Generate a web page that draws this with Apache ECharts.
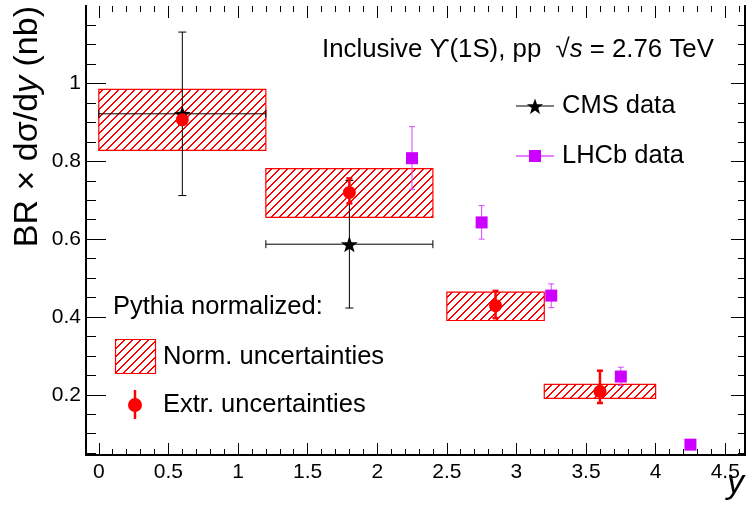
<!DOCTYPE html>
<html>
<head>
<meta charset="utf-8">
<script src="https://cdn.jsdelivr.net/npm/echarts@6/dist/echarts.min.js"></script>
<style>
  html, body { margin: 0; padding: 0; background: #fff; }
  #main { width: 746px; height: 506px; }
</style>
</head>
<body>
<div id="main"></div>
<script>
// rapidity bins and values
var cmsX = [0.6, 1.8];
var cmsVal = [0.922, 0.587];
var cmsXLo = [0, 1.2];
var cmsXHi = [1.2, 2.4];
var cmsLo = [0.712, 0.423];
var cmsHi = [1.132, 0.751];

var pyX = [0.6, 1.8, 2.85, 3.6];
var pyVal = [0.907, 0.72, 0.429, 0.209];
var pyLo = [0.895, 0.692, 0.397, 0.179];
var pyHi = [0.919, 0.756, 0.467, 0.262];
var boxXLo = [0, 1.2, 2.5, 3.2];
var boxXHi = [1.2, 2.4, 3.2, 4.0];
var boxLo = [0.828, 0.656, 0.391, 0.191];
var boxHi = [0.985, 0.781, 0.464, 0.227];

var lhcbX = [2.25, 2.75, 3.25, 3.75, 4.25];
var lhcbVal = [0.808, 0.643, 0.455, 0.247, 0.072];
var lhcbLo = [0.728, 0.600, 0.424, 0.224, 0.062];
var lhcbHi = [0.889, 0.686, 0.485, 0.271, 0.082];

var xTicks = [0, 0.5, 1, 1.5, 2, 2.5, 3, 3.5, 4, 4.5];
var yTicks = [0.2, 0.4, 0.6, 0.8, 1];

var xMinor = [];
for (var i = 1; i <= 46; i++) { if (i % 5 !== 0) xMinor.push(i / 10); }
var yMinor = [];
for (var j = 1; j <= 23; j++) { if (j % 4 !== 0) yMinor.push(j / 20); }

var FONT = 'Liberation Sans, Arial, sans-serif';
var RED = '#ff0000';
var MAG = '#cc00ff';

// crisp "///" hatch tile
var hatch = document.createElement('canvas');
hatch.width = 8; hatch.height = 8;
var hc = hatch.getContext('2d');
hc.fillStyle = RED;
for (var p = 0; p < 8; p++) hc.fillRect(p, 7 - p, 2, 1);
hc.fillRect(0, 0, 1, 1);
function hatchFill() { return { image: hatch, repeat: 'repeat' }; }

var chart = echarts.init(document.getElementById('main'));

function axisX(pos, len, vals, labels) {
  return {
    type: 'value', position: pos, min: -0.092, max: 4.642,
    axisLine: { show: labels, lineStyle: { color: '#000', width: 2 } },
    axisTick: { inside: true, length: len, customValues: vals, lineStyle: { color: '#000', width: 1 } },
    axisLabel: labels ? { customValues: vals, color: '#000', fontSize: 21, fontFamily: FONT, margin: 7 } : { show: false },
    splitLine: { show: false }
  };
}
function axisY(pos, len, vals, labels) {
  return {
    type: 'value', position: pos, min: 0.0454, max: 1.199,
    axisLine: { show: true, onZero: false, lineStyle: { color: '#000', width: 2 } },
    axisTick: { inside: true, length: len, customValues: vals, lineStyle: { color: '#000', width: 1 } },
    axisLabel: labels ? { customValues: vals, color: '#000', fontSize: 21, fontFamily: FONT, margin: 5 } : { show: false },
    splitLine: { show: false }
  };
}

var boxData = pyX.map(function (x, k) { return [boxXLo[k], boxXHi[k], boxLo[k], boxHi[k]]; });
var cmsErr = cmsX.map(function (x, k) { return [x, cmsVal[k], cmsLo[k], cmsHi[k], cmsXLo[k], cmsXHi[k]]; });
var pyErr = pyX.map(function (x, k) { return [x, pyVal[k], pyLo[k], pyHi[k]]; });
var lhcbErr = lhcbX.map(function (x, k) { return [x, lhcbVal[k], lhcbLo[k], lhcbHi[k]]; });

function errRender(color, width, cap, withX) {
  return function (params, api) {
    var x = api.value(0);
    var top = api.coord([x, api.value(3)]);
    var bot = api.coord([x, api.value(2)]);
    var st = { stroke: color, lineWidth: width };
    var kids = [
      { type: 'line', shape: { x1: top[0], y1: top[1], x2: bot[0], y2: bot[1] }, style: st },
      { type: 'line', shape: { x1: top[0] - cap, y1: top[1], x2: top[0] + cap, y2: top[1] }, style: st },
      { type: 'line', shape: { x1: bot[0] - cap, y1: bot[1], x2: bot[0] + cap, y2: bot[1] }, style: st }
    ];
    if (withX) {
      var l = api.coord([api.value(4), api.value(1)]);
      var r = api.coord([api.value(5), api.value(1)]);
      kids.push({ type: 'line', shape: { x1: l[0], y1: l[1], x2: r[0], y2: r[1] }, style: st });
      kids.push({ type: 'line', shape: { x1: l[0], y1: l[1] - cap, x2: l[0], y2: l[1] + cap }, style: st });
      kids.push({ type: 'line', shape: { x1: r[0], y1: r[1] - cap, x2: r[0], y2: r[1] + cap }, style: st });
    }
    return { type: 'group', children: kids };
  };
}

var starPath = 'path://M0,-10L2.35,-3.24L9.51,-3.09L3.8,1.24L5.88,8.09L0,4L-5.88,8.09L-3.8,1.24L-9.51,-3.09L-2.35,-3.24Z';

// legend star glyph
var starPts = [];
for (var s = 0; s < 10; s++) {
  var ang = -Math.PI / 2 + s * Math.PI / 5;
  var rr = s % 2 === 0 ? 8.5 : 3.4;
  starPts.push([535 + rr * Math.cos(ang), 107 + rr * Math.sin(ang)]);
}

var option = {
  animation: false,
  backgroundColor: '#fff',
  grid: { left: 86, right: 1, top: 6, bottom: 51, containLabel: false },
  xAxis: [
    axisX('bottom', 12, xTicks, true),
    axisX('bottom', 6, xMinor, false),
    axisX('top', 12, xTicks, false),
    axisX('top', 6, xMinor, false)
  ],
  yAxis: [
    axisY('left', 20, yTicks, true),
    axisY('left', 10, yMinor, false),
    axisY('right', 14, yTicks, false),
    axisY('right', 7, yMinor, false)
  ],
  graphic: [
    { type: 'text', x: 28, y: 6, rotation: Math.PI / 2,
      style: {
        text: '{n|BR × dσ/d}{i|y}{n| (nb)}', fill: '#000', align: 'right', verticalAlign: 'middle',
        rich: { n: { fontSize: 34, fontFamily: FONT }, i: { fontSize: 34, fontFamily: FONT, fontStyle: 'italic' } }
      } },
    { type: 'text', x: 744, y: 484,
      style: { text: 'y', font: 'italic 34px ' + FONT, fill: '#000', align: 'right', verticalAlign: 'middle' } },
    { type: 'text', x: 322, y: 50,
      style: { text: '{n|Inclusive ϒ(1S), pp  √}{i|s}{n| = 2.76 TeV}', fill: '#000', verticalAlign: 'middle',
        rich: { n: { fontSize: 25.8, fontFamily: FONT }, i: { fontSize: 25.8, fontFamily: FONT, fontStyle: 'italic' } } } },
    { type: 'line', shape: { x1: 516, y1: 106, x2: 554, y2: 106 }, style: { stroke: '#000', lineWidth: 1 } },
    { type: 'polygon', shape: { points: starPts }, style: { fill: '#000' } },
    { type: 'text', x: 562, y: 106, style: { text: 'CMS data', font: '25.5px ' + FONT, fill: '#000', verticalAlign: 'middle' } },
    { type: 'line', shape: { x1: 516, y1: 156, x2: 554, y2: 156 }, style: { stroke: MAG, lineWidth: 1 } },
    { type: 'rect', shape: { x: 529, y: 150, width: 12, height: 12 }, style: { fill: MAG } },
    { type: 'text', x: 562, y: 156, style: { text: 'LHCb data', font: '25.5px ' + FONT, fill: '#000', verticalAlign: 'middle' } },
    { type: 'text', x: 113, y: 307, style: { text: 'Pythia normalized:', font: '25.5px ' + FONT, fill: '#000', verticalAlign: 'middle' } },
    { type: 'rect', shape: { x: 115.5, y: 339.5, width: 40, height: 34 }, style: { fill: hatchFill(), stroke: RED, lineWidth: 1.2 } },
    { type: 'text', x: 163, y: 357, style: { text: 'Norm. uncertainties', font: '25.5px ' + FONT, fill: '#000', verticalAlign: 'middle' } },
    { type: 'line', shape: { x1: 135, y1: 390, x2: 135, y2: 419 }, style: { stroke: RED, lineWidth: 2.5 } },
    { type: 'circle', shape: { cx: 135, cy: 405, r: 7 }, style: { fill: RED } },
    { type: 'text', x: 163, y: 405, style: { text: 'Extr. uncertainties', font: '25.5px ' + FONT, fill: '#000', verticalAlign: 'middle' } }
  ],
  series: [
    {
      type: 'custom', name: 'Norm. uncertainties', data: boxData,
      encode: { x: [0, 1], y: [2, 3] },
      renderItem: function (params, api) {
        var p0 = api.coord([api.value(0), api.value(3)]);
        var p1 = api.coord([api.value(1), api.value(2)]);
        return { type: 'rect', shape: { x: p0[0], y: p0[1], width: p1[0] - p0[0], height: p1[1] - p0[1] },
          style: { fill: hatchFill(), stroke: RED, lineWidth: 1.2 } };
      }
    },
    { type: 'custom', name: 'CMS err', data: cmsErr, encode: { x: 0, y: 1 }, renderItem: errRender('#000', 1, 4, true) },
    {
      type: 'scatter', name: 'CMS data', data: cmsX.map(function (x, k) { return [x, cmsVal[k]]; }),
      symbol: starPath, symbolSize: 17, symbolKeepAspect: true, itemStyle: { color: '#000', opacity: 1 }
    },
    { type: 'custom', name: 'Pythia err', data: pyErr, encode: { x: 0, y: 1 }, renderItem: errRender(RED, 2.5, 3, false) },
    {
      type: 'scatter', name: 'Extr. uncertainties', data: pyX.map(function (x, k) { return [x, pyVal[k]]; }),
      symbol: 'circle', symbolSize: 13, itemStyle: { color: RED, opacity: 1 }
    },
    { type: 'custom', name: 'LHCb err', data: lhcbErr, encode: { x: 0, y: 1 }, renderItem: errRender('#d648ff', 1, 3, false) },
    {
      type: 'scatter', name: 'LHCb data', data: lhcbX.map(function (x, k) { return [x, lhcbVal[k]]; }),
      symbol: 'rect', symbolSize: 12, itemStyle: { color: MAG, opacity: 1 }
    }
  ]
};
chart.setOption(option);
</script>
</body>
</html>
